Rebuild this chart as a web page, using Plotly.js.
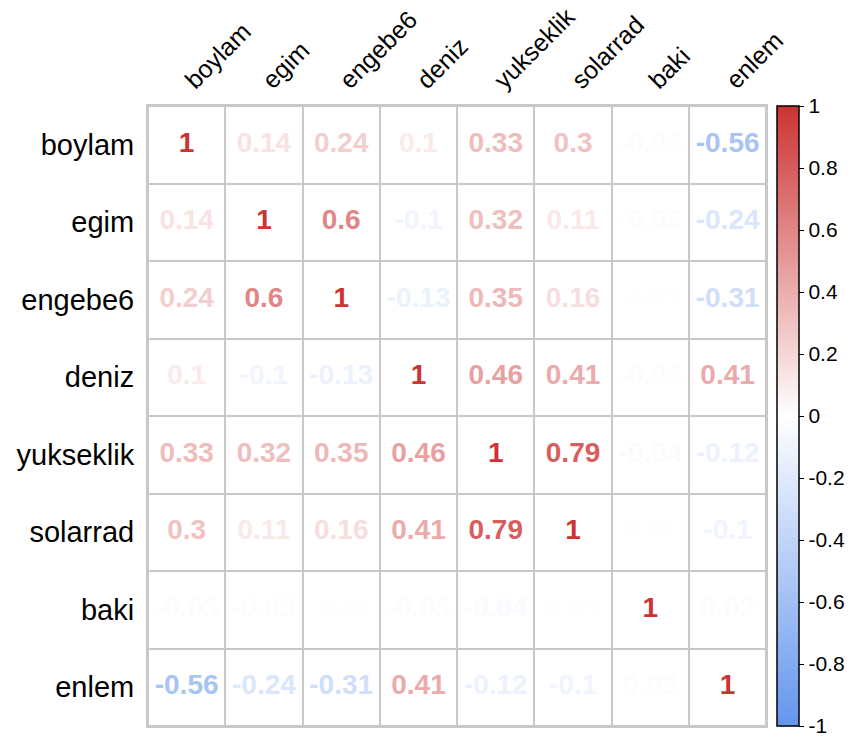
<!DOCTYPE html>
<html>
<head>
<meta charset="utf-8">
<script src="https://cdn.plot.ly/plotly-3.0.1.min.js"></script>
<style>html,body{margin:0;padding:0;background:#fff;}#chart{width:851px;height:742px;}</style>
</head>
<body>
<div id="chart"></div>
<script>
const variables = ["boylam","egim","engebe6","deniz","yukseklik","solarrad","baki","enlem"];
const row_boylam    = [1, 0.14, 0.24, 0.1, 0.33, 0.3, -0.03, -0.56];
const row_egim      = [0.14, 1, 0.6, -0.1, 0.32, 0.11, -0.03, -0.24];
const row_engebe6   = [0.24, 0.6, 1, -0.13, 0.35, 0.16, -0.01, -0.31];
const row_deniz     = [0.1, -0.1, -0.13, 1, 0.46, 0.41, -0.03, 0.41];
const row_yukseklik = [0.33, 0.32, 0.35, 0.46, 1, 0.79, -0.04, -0.12];
const row_solarrad  = [0.3, 0.11, 0.16, 0.41, 0.79, 1, 0.01, -0.1];
const row_baki      = [-0.03, -0.03, -0.01, -0.03, -0.04, 0.01, 1, 0.02];
const row_enlem     = [-0.56, -0.24, -0.31, 0.41, -0.12, -0.1, 0.02, 1];
const colorbarTicks = [1, 0.8, 0.6, 0.4, 0.2, 0, -0.2, -0.4, -0.6, -0.8, -1];

const matrix = [row_boylam,row_egim,row_engebe6,row_deniz,row_yukseklik,row_solarrad,row_baki,row_enlem];

const LOW = [100,149,237], MID = [255,255,255], HIGH = [205,51,51];
const colorscale = [[0,'rgb(100,149,237)'],[0.5,'rgb(255,255,255)'],[1,'rgb(205,51,51)']];
function colorFor(v){
  const a = v < 0 ? LOW : HIGH;
  const t = Math.abs(v);
  const c = MID.map((m,i)=>Math.round(m + (a[i]-m)*t));
  return 'rgb('+c.join(',')+')';
}

const xs=[], ys=[], vals=[], txt=[], cols=[];
matrix.forEach((row,i)=>row.forEach((v,j)=>{
  xs.push(variables[j]); ys.push(variables[i]); vals.push(v);
  txt.push(String(v)); cols.push(colorFor(v));
}));

const font = "Liberation Sans, Arial, sans-serif";

// plot area: margin l=148, r=5 -> 698 px wide; grid occupies 620 px of it
const bg = {
  type:'heatmap', x:variables, y:variables, z:matrix,
  colorscale:[[0,'#ffffff'],[1,'#ffffff']], showscale:false,
  xgap:2, ygap:2, hoverinfo:'skip'
};
const labels = {
  type:'scatter', mode:'markers+text', x:xs, y:ys, text:txt,
  textposition:'middle center',
  textfont:{family:font, size:28, color:cols, weight:'bold'},
  marker:{size:1, opacity:0, color:vals, colorscale:colorscale, cmin:-1, cmax:1, showscale:true,
    colorbar:{x:0.904, xanchor:'left', xpad:0, ypad:0, y:0.5, yanchor:'middle', len:1, lenmode:'fraction',
      thickness:22, outlinecolor:'#000', outlinewidth:1.5,
      tickmode:'array', tickvals:colorbarTicks, ticktext:colorbarTicks.map(String),
      ticks:'outside', ticklen:5, tickcolor:'#000', tickwidth:1,
      tickfont:{family:font, size:21, color:'#000'}}},
  hoverinfo:'skip', showlegend:false
};

const layout = {
  width:851, height:742,
  margin:{l:148, r:5, t:106, b:16},
  paper_bgcolor:'#fff', plot_bgcolor:'#c8c8c8',
  font:{family:font, color:'#000'},
  xaxis:{domain:[0,0.8883], side:'top', type:'category', categoryorder:'array', categoryarray:variables, automargin:false,
    tickangle:-45, tickfont:{family:font, size:25, color:'#000'}, ticks:'', showgrid:false, zeroline:false,
    showline:true, mirror:true, linecolor:'#c8c8c8', linewidth:2, range:[-0.5,7.5]},
  yaxis:{type:'category', categoryorder:'array', categoryarray:variables, autorange:false, range:[7.5,-0.5], automargin:false,
    tickfont:{family:font, size:29, color:'#000'}, ticks:'', ticklabelstandoff:6, showgrid:false, zeroline:false,
    showline:true, mirror:true, linecolor:'#c8c8c8', linewidth:2}
};

Plotly.newPlot('chart',[bg,labels],layout,{displayModeBar:false, staticPlot:true});
</script>
</body>
</html>
